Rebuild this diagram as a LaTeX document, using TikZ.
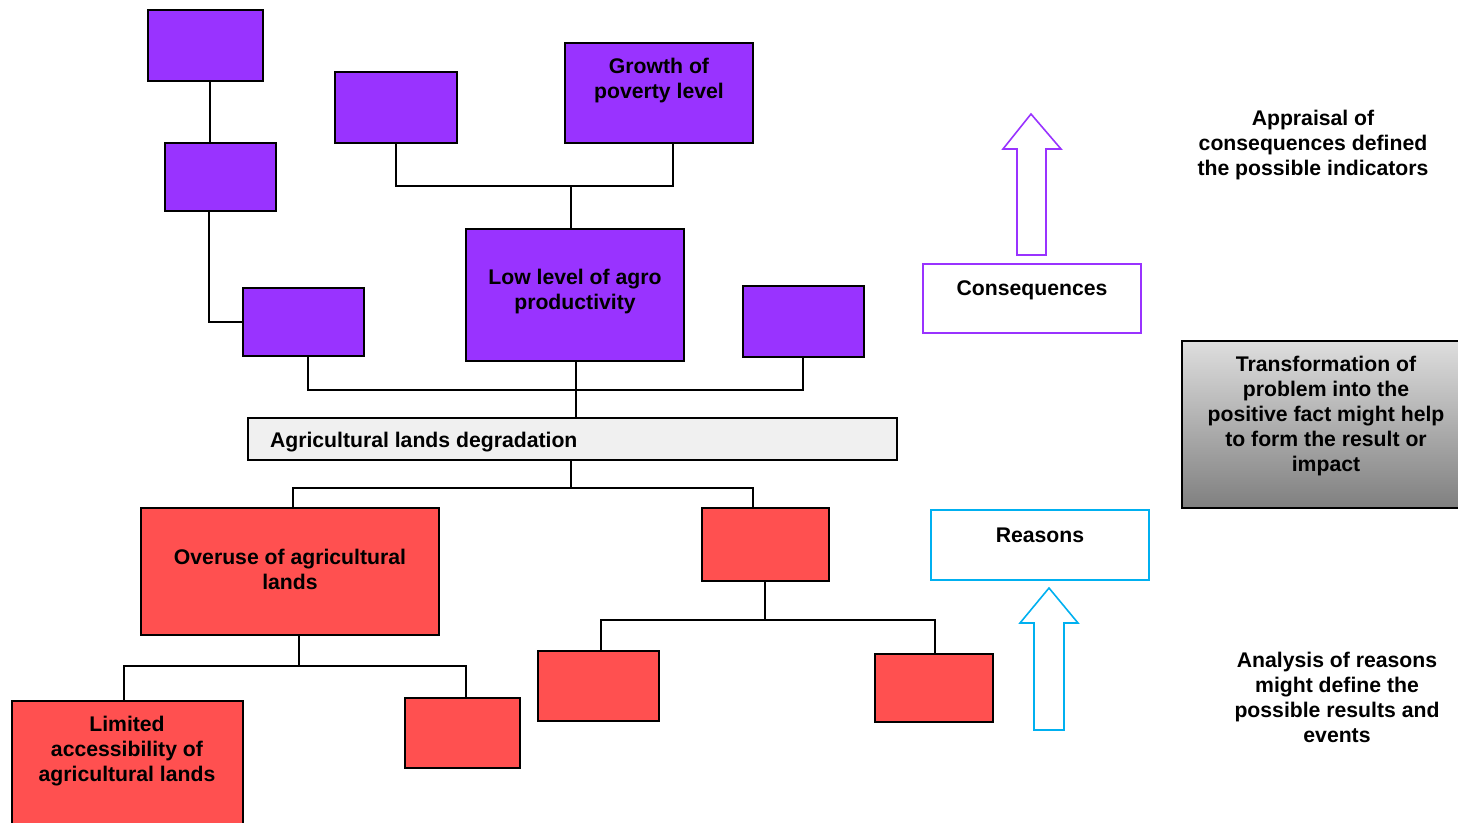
\documentclass[tikz,border=0pt]{standalone}
\usepackage{fontspec}
\setmainfont{Liberation Sans}
\usetikzlibrary{shadings}
\definecolor{violetfill}{HTML}{9933FF}
\definecolor{redfill}{HTML}{FF5050}
\definecolor{cyanline}{HTML}{00B0F0}
\definecolor{lightbar}{HTML}{F0F0F0}
\begin{document}
\begin{tikzpicture}[x=1pt,y=-1pt,
  every node/.style={inner sep=0pt, outer sep=0pt},
  card/.style={draw=black, line width=1.6pt, anchor=north west},
  vbox/.style={card, fill=violetfill},
  rbox/.style={card, fill=redfill},
  link/.style={draw=black, line width=1.5pt},
  caption/.style={font=\fontsize{21.2}{25}\selectfont\bfseries, align=center},
  hollow/.style={line width=1.6pt, fill=white, line join=miter}
]
\useasboundingbox (0,0) rectangle (1458,822);

% upper (consequence) boxes
\node[vbox, minimum width=115, minimum height=71] (p1) at (148,10) {};
\node[vbox, minimum width=111, minimum height=68] (p2) at (165,143) {};
\node[vbox, minimum width=121, minimum height=68] (p3) at (243,288) {};
\node[vbox, minimum width=122, minimum height=71] (p4) at (335,72) {};
\node[vbox, minimum width=188, minimum height=100] (p5) at (565,43) {};
\node[vbox, minimum width=218, minimum height=132] (p6) at (466,229) {};
\node[vbox, minimum width=121, minimum height=71] (p7) at (743,286) {};

% central problem bar
\node[card, fill=lightbar, minimum width=649, minimum height=42] (core) at (248,418) {};

% lower (reason) boxes
\node[rbox, minimum width=298, minimum height=127] (r1) at (141,508) {};
\node[rbox, minimum width=127, minimum height=73] (r2) at (702,508) {};
\node[rbox, minimum width=231, minimum height=130] (r3) at (12,701) {};
\node[rbox, minimum width=115, minimum height=70] (r4) at (405,698) {};
\node[rbox, minimum width=121, minimum height=70] (r5) at (538,651) {};
\node[rbox, minimum width=118, minimum height=68] (r6) at (875,654) {};

% box texts
\node[caption] (t5) at (659,81) {Growth of\\poverty level};
\node[caption] (t6) at (575,292) {Low level of agro\\productivity};
\node[caption, anchor=west] (tc) at (270,442) {Agricultural lands degradation};
\node[caption] (t1) at (290,569) {Overuse of agricultural\\lands};
\node[caption] (t3) at (127,751) {Limited\\accessibility of\\agricultural lands};

% connectors, upper tree
\draw[link] (210,81 |- p1.south) -- (210,81 |- p2.north);
\draw[link] (p2.south -| 209,0) |- (p3.west);
\coordinate (ja) at (571,186);
\draw[link] (p4.south) |- (ja) -| (p5.south -| 673,0);
\draw[link] (ja) -- (p6.north -| ja);
\coordinate (jb) at (576,390);
\draw[link] (p3.south -| 308,0) |- (jb) -| (p7.south -| 803,0);
\draw[link] (p6.south -| jb) -- (core.north -| jb);

% connectors, lower tree
\coordinate (jc) at (571,488);
\draw[link] (core.south -| jc) -- (jc);
\draw[link] (r1.north -| 293,0) |- (jc) -| (r2.north -| 753,0);
\coordinate (jd) at (299,666);
\draw[link] (r1.south -| jd) -- (jd);
\draw[link] (r3.north -| 124,0) |- (jd) -| (r4.north -| 466,0);
\coordinate (je) at (765,620);
\draw[link] (r2.south -| je) -- (je);
\draw[link] (r5.north -| 601,0) |- (je) -| (r6.north -| 935,0);

% legend: consequences
\node[draw=violetfill, line width=1.6pt, anchor=north west, minimum width=218, minimum height=69] (cons) at (923,264) {};
\node[caption] (tcons) at (1032,290) {Consequences};
\draw[hollow, draw=violetfill] (1017,255) -- (1017,149) -- (1003,149) -- (1031,114) -- (1061,149) -- (1046,149) -- (1046,255) -- cycle;
\node[caption] (tapp) at (1313,145) {Appraisal of\\consequences defined\\the possible indicators};

% legend: transformation
\node[draw=black, line width=1.6pt, anchor=north west, minimum width=280, minimum height=167,
      top color=black!13, bottom color=black!50] (trans) at (1182,341) {};
\node[caption] (ttrans) at (1326,416) {Transformation of\\problem into the\\positive fact might help\\to form the result or\\impact};

% legend: reasons
\node[draw=cyanline, line width=1.6pt, anchor=north west, minimum width=218, minimum height=70] (reas) at (931,510) {};
\node[caption] (treas) at (1040,535) {Reasons};
\draw[hollow, draw=cyanline] (1034,730) -- (1034,623) -- (1020,623) -- (1049,588) -- (1078,623) -- (1064,623) -- (1064,730) -- cycle;
\node[caption] (tana) at (1337,697) {Analysis of reasons\\might define the\\possible results and\\events};
\end{tikzpicture}
\end{document}
